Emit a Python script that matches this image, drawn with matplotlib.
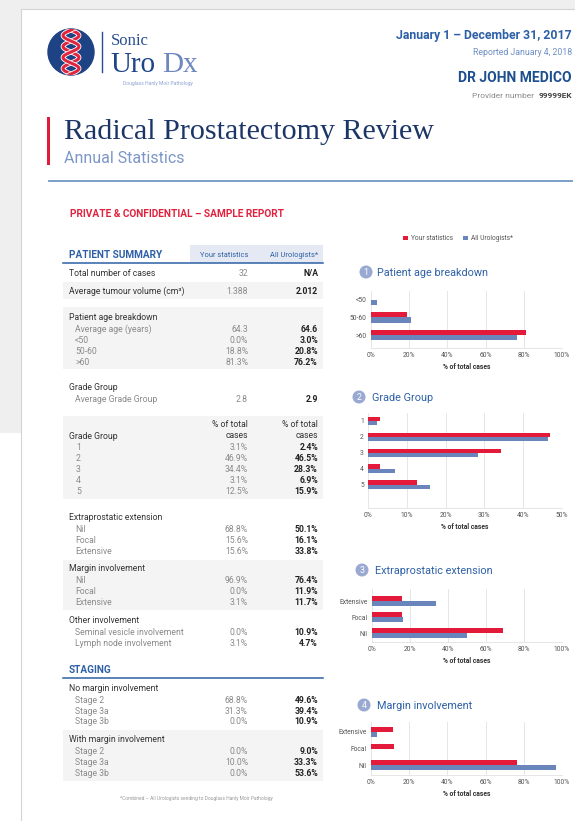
import numpy as np
import matplotlib
matplotlib.use('Agg')
import matplotlib.pyplot as plt
from matplotlib.patches import Rectangle, Circle

# ---------------- data ----------------
age_cats = ['<50', '50-60', '>60']
age_yours = [0.0, 18.8, 81.3]
age_all = [3.0, 20.8, 76.2]
avg_age = ['64.3', '64.6']

grade_cats = ['1', '2', '3', '4', '5']
grade_yours = [3.1, 46.9, 34.4, 3.1, 12.5]
grade_all = [2.4, 46.5, 28.3, 6.9, 15.9]
avg_grade = ['2.8', '2.9']

epe_cats = ['Nil', 'Focal', 'Extensive']
epe_yours = [68.8, 15.6, 15.6]
epe_all = [50.1, 16.1, 33.8]

margin_cats = ['Nil', 'Focal', 'Extensive']
margin_yours = [96.9, 0.0, 3.1]
margin_all = [76.4, 11.9, 11.7]

other_cats = ['Seminal vesicle involvement', 'Lymph node involvement']
other_yours = [0.0, 3.1]
other_all = [10.9, 4.7]

stage_cats = ['Stage 2', 'Stage 3a', 'Stage 3b']
stage_nomargin_yours = [68.8, 31.3, 0.0]
stage_nomargin_all = [49.6, 39.4, 10.9]
stage_margin_yours = [0.0, 10.0, 0.0]
stage_margin_all = [9.0, 33.3, 53.6]

total_cases = ['32', 'N/A']
tumour_volume = ['1.388', '2.012']

# ---------------- style ----------------
RED = '#e31a3a'
BLUE = '#6a85bb'
NAVY = '#1b3566'
HBLUE = '#2d60a6'
LBLUE = '#7d96c8'
BAND = '#f4f4f4'
SANS = ['Roboto', 'DejaVu Sans']
plt.rcParams['font.family'] = SANS

W, H = 575, 821
fig = plt.figure(figsize=(W / 100, H / 100), dpi=100)
bg = fig.add_axes([0, 0, 1, 1])
bg.set_xlim(0, W)
bg.set_ylim(H, 0)
bg.axis('off')


def T(x, y, s, **kw):
    if 'va' not in kw:
        fs = kw.get('fontsize', 10)
        y = y + round(0.36 * fs * 100 / 72)
        kw['va'] = 'baseline'
    return bg.text(x, y, s, **kw)


# page background
bg.add_patch(Rectangle((0, 0), W, 9, color='#efefef', lw=0))
bg.add_patch(Rectangle((0, 0), 21, 433, color='#efefef', lw=0))
bg.plot([21, W], [9, 9], color='#d4d4d4', lw=0.8)
bg.plot([21, 21], [9, H], color='#d4d4d4', lw=0.8)

# logo
circ = Circle((71, 52), 23, color='#1d4385')
bg.add_patch(circ)
yy = np.linspace(26, 78, 200)
for ph in (0, np.pi):
    xx = 71 + 8 * np.sin(2 * np.pi * (yy - 30) / 22 + ph)
    l1, = bg.plot(xx, yy, color='white', lw=3.4, solid_capstyle='butt')
    l2, = bg.plot(xx, yy, color='#e0263f', lw=2.2, solid_capstyle='butt')
    l1.set_clip_path(circ)
    l2.set_clip_path(circ)
bg.plot([102, 102], [32, 72], color='#2a4e8f', lw=1)
T(111, 45, 'Sonic', family=['Liberation Serif'], fontsize=12, color='#2a4e8f', va='baseline')
T(110, 72, 'Uro', family=['Liberation Serif'], fontsize=21, color='#1f4588', va='baseline')
T(162, 72, 'Dx', family=['Liberation Serif'], fontsize=21, color='#6f87bf', va='baseline')
T(158, 83, 'Douglass Hanly Moir Pathology', fontsize=3.6, color='#8ea3cf', ha='center')

# header right
T(572, 35, 'January 1 – December 31, 2017', fontsize=8.8, color=HBLUE, ha='right', weight='bold')
T(572, 52, 'Reported January 4, 2018', fontsize=6.3, color='#6d8fc5', ha='right')
T(572, 77, 'DR JOHN MEDICO', fontsize=10, color='#1d4f8f', ha='right', weight='bold')
T(572, 95, '99999EK', fontsize=6, color='#444444', ha='right', weight='bold')
T(534, 95, 'Provider number', fontsize=6, color='#8a8a8a', ha='right')

# title
bg.add_patch(Rectangle((47, 117), 3, 48, color=RED, lw=0))
T(64, 139, 'Radical Prostatectomy Review', family=['Liberation Serif'], fontsize=21.6,
  color=NAVY, va='baseline')
T(64, 157, 'Annual Statistics', fontsize=11.5, color=LBLUE)
bg.plot([49, 572], [181, 181], color='#6e96c2', lw=1.3)

T(70, 213, 'PRIVATE & CONFIDENTIAL – SAMPLE REPORT', fontsize=7.3, color='#e0223f', weight='bold')

# ---------------- table ----------------
L0, L1, CY, CA = 69, 75, 248, 318
TX0, TX1 = 63, 323
FS = 6.2
HEAD = '#333333'
SUB = '#8a8a8a'
YV = '#8a8a8a'
AV = '#222222'


def band(y0, y1):
    bg.add_patch(Rectangle((TX0, y0), TX1 - TX0, y1 - y0, color=BAND, lw=0))


def head(y, s):
    T(L0, y, s, fontsize=FS, color=HEAD)


def row(y, s, yv, av, x=L1, lc=SUB):
    T(x, y, s, fontsize=FS, color=lc)
    T(CY, y, yv, fontsize=FS, color=YV, ha='right')
    T(CA, y, av, fontsize=FS, color=AV, ha='right', weight='bold')


def pct(v):
    return f'{v:.1f}%'


bg.add_patch(Rectangle((190, 245), TX1 - 190, 18, color='#e5e9f3', lw=0))
T(L0, 254, 'PATIENT SUMMARY', fontsize=7.2, color=HBLUE, weight='bold')
T(CY, 254, 'Your statistics', fontsize=5.4, color=HBLUE, ha='right')
T(CA, 254, 'All Urologists*', fontsize=5.4, color=HBLUE, ha='right')
bg.plot([TX0, TX1], [263, 263], color=HBLUE, lw=1.1)

row(273, 'Total number of cases', total_cases[0], total_cases[1], x=L0, lc=HEAD)
band(282, 299)
row(291, 'Average tumour volume (cm³)', tumour_volume[0], tumour_volume[1], x=L0, lc=HEAD)

band(307, 369)
head(317, 'Patient age breakdown')
row(329, 'Average age (years)', avg_age[0], avg_age[1])
for y, c, a, b in zip([340, 351, 362], age_cats, age_yours, age_all):
    row(y, c, pct(a), pct(b))

head(387, 'Grade Group')
row(399, 'Average Grade Group', avg_grade[0], avg_grade[1])

band(416, 499)
for xr in (CY, CA):
    T(xr, 424, '% of total', fontsize=FS, color=HEAD, ha='right')
    T(xr, 435, 'cases', fontsize=FS, color=HEAD, ha='right')
head(436, 'Grade Group')
for y, c, a, b in zip([447, 458, 469, 480, 491], grade_cats, grade_yours, grade_all):
    row(y, c, pct(a), pct(b), x=76)

head(517, 'Extraprostatic extension')
for y, c, a, b in zip([529, 540, 551], epe_cats, epe_yours, epe_all):
    row(y, c, pct(a), pct(b))

band(560, 610)
head(568, 'Margin involvement')
for y, c, a, b in zip([580, 591, 602], margin_cats, margin_yours, margin_all):
    row(y, c, pct(a), pct(b))

head(620, 'Other involvement')
for y, c, a, b in zip([632, 643], other_cats, other_yours, other_all):
    row(y, c, pct(a), pct(b))

T(L0, 669, 'STAGING', fontsize=7.2, color=HBLUE, weight='bold')
bg.plot([TX0, TX1], [678, 678], color=HBLUE, lw=1.1)
head(688, 'No margin involvement')
for y, c, a, b in zip([700, 711, 721], stage_cats, stage_nomargin_yours, stage_nomargin_all):
    row(y, c, pct(a), pct(b))
band(730, 781)
head(739, 'With margin involvement')
for y, c, a, b in zip([751, 762, 773], stage_cats, stage_margin_yours, stage_margin_all):
    row(y, c, pct(a), pct(b))

T(196, 798, '*Combined – All Urologists sending to Douglass Hanly Moir Pathology',
  fontsize=3.5, color='#999999', ha='center')

# ---------------- charts ----------------


def fr(x0, y0, x1, y1):
    return [x0 / W, 1 - y1 / H, (x1 - x0) / W, (y1 - y0) / H]


def chart(rect, cats, red, blue, xmax, ylim, h, num, title, tx, cx, ty):
    ax = fig.add_axes(fr(*rect))
    ax.set_facecolor('none')
    idx = np.arange(len(cats))
    br = ax.barh(idx - h / 2, red, height=h, color=RED, label='Your statistics')
    bb = ax.barh(idx + h / 2, blue, height=h, color=BLUE, label='All Urologists*')
    ax.set_xlim(0, xmax)
    ax.set_ylim(*ylim)
    ticks = np.linspace(0, xmax, 6)
    ax.set_xticks(ticks)
    ax.set_xticklabels([f'{t:.0f}%' for t in ticks])
    ax.set_yticks(idx)
    ax.set_yticklabels(cats)
    ax.tick_params(length=0, labelsize=4.9, colors='#555555', pad=3)
    ax.grid(axis='x', color='#e6e6e6', lw=0.7)
    ax.set_axisbelow(True)
    for s in ('top', 'right', 'left'):
        ax.spines[s].set_visible(False)
    ax.spines['bottom'].set_color('#e6e6e6')
    ax.spines['bottom'].set_linewidth(0.7)
    ax.set_xlabel('% of total cases', fontsize=4.9, color='#333333', weight='bold', labelpad=3)
    bg.add_patch(Circle((cx, ty), 6.5, color='#9aa9d2', lw=0))
    T(cx, ty, str(num), ha='center', fontsize=6.3, color='white')
    T(tx, ty, title, fontsize=7.8, color=HBLUE)
    return br, bb


br, bb = chart((371, 291, 562, 348), age_cats, age_yours, age_all, 100, (2.74, -0.51), 0.29,
               1, 'Patient age breakdown', 377, 366, 272)
chart((368, 413, 562, 508), grade_cats, grade_yours, grade_all, 50, (5.44, -0.5), 0.28,
      2, 'Grade Group', 372, 359, 397)
chart((372, 589, 562, 642), epe_cats[::-1], epe_yours[::-1], epe_all[::-1], 100, (2.56, -0.75), 0.3,
      3, 'Extraprostatic extension', 375, 362, 570)
# reference chart shows the margin series with colours swapped relative to the table
chart((371, 722, 562, 775), margin_cats[::-1], margin_all[::-1], margin_yours[::-1], 100, (2.6, -0.6), 0.3,
      4, 'Margin involvement', 377, 364, 705)

fig.legend(handles=[br, bb], loc='center', bbox_to_anchor=(458 / W, 1 - 239 / H), ncol=2,
           frameon=False, fontsize=4.8, handlelength=0.7, handleheight=0.7, handletextpad=0.4,
           columnspacing=1.6, labelcolor='#555555')

fig.savefig('out.png', dpi=100)
